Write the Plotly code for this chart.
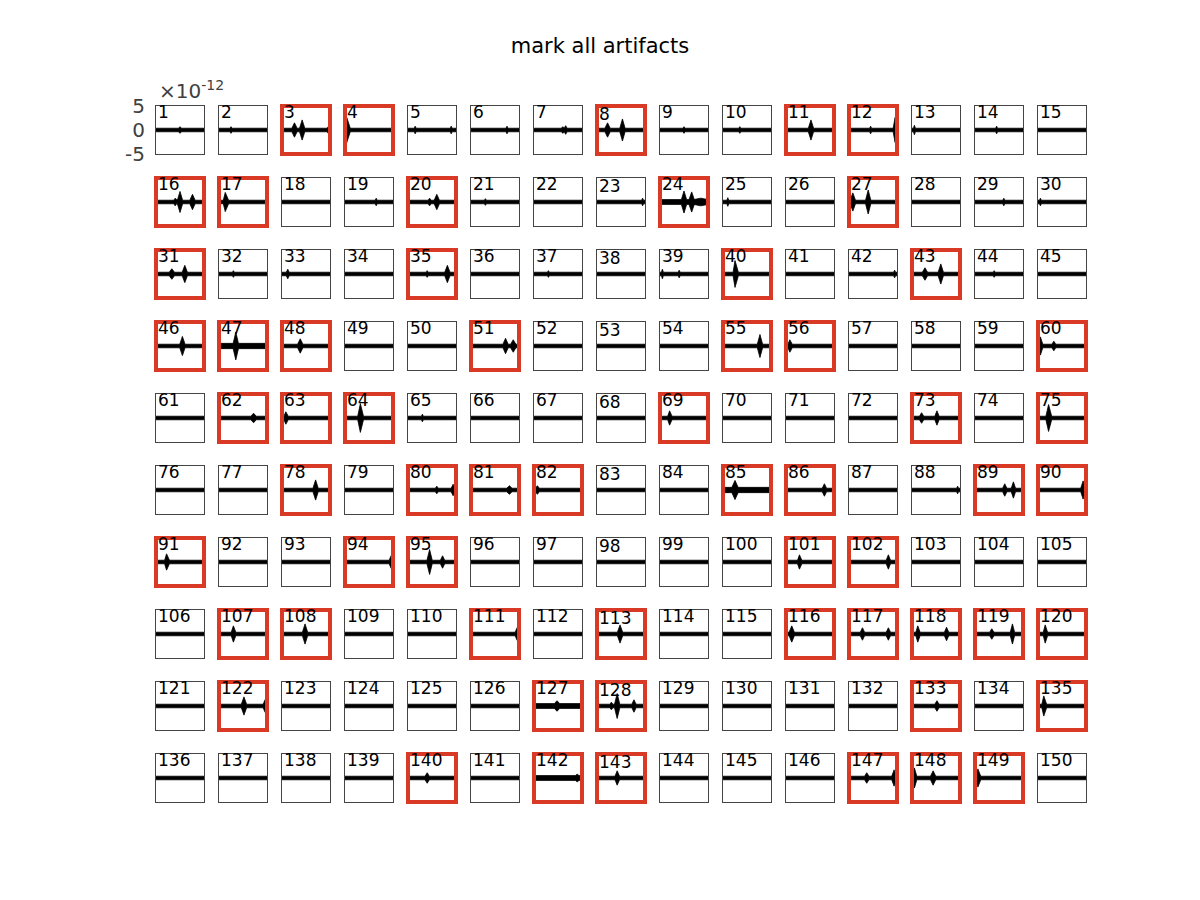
import plotly.graph_objects as go

# ---------------- data ----------------
title_text = "mark all artifacts"
n_panels = 150
n_cols = 15
panel_ids = list(range(1, n_panels + 1))

# panels marked as artifacts (red frame)
marked = [3, 4, 8, 11, 12, 16, 17, 20, 24, 27, 31, 35, 40, 43,
          46, 47, 48, 51, 55, 56, 60, 62, 63, 64, 69, 73, 75,
          78, 80, 81, 82, 85, 86, 89, 90, 91, 94, 95, 101, 102,
          107, 108, 111, 113, 116, 117, 118, 119, 120,
          122, 127, 128, 133, 135, 140, 142, 143, 147, 148, 149]

# background noise half-amplitude (x 1e-12)
base_amp = 0.37
thick = {24: 0.5, 47: 0.55, 85: 0.55, 127: 0.5, 142: 0.5}

# bursts: (relative time, peak half-amplitude x1e-12, rise width, decay width)
bursts = {
    1: [(0.5, 0.7, 0.03, 0.03)],
    2: [(0.25, 0.7, 0.02, 0.02)],
    3: [(0.26, 1.5, 0.055, 0.055), (0.42, 2.1, 0.055, 0.055), (0.97, 0.8, 0.03, 0.03)],
    4: [(0.03, 2.8, 0.03, 0.08)],
    5: [(0.15, 0.8, 0.02, 0.02), (0.9, 0.8, 0.02, 0.02)],
    6: [(0.75, 0.8, 0.02, 0.02)],
    7: [(0.6, 0.7, 0.03, 0.03), (0.66, 0.9, 0.03, 0.03)],
    8: [(0.22, 1.5, 0.055, 0.055), (0.53, 2.3, 0.055, 0.055)],
    9: [(0.5, 0.7, 0.02, 0.02)],
    10: [(0.35, 0.7, 0.02, 0.02)],
    11: [(0.52, 2.1, 0.055, 0.055)],
    12: [(0.45, 0.8, 0.02, 0.02), (0.96, 2.6, 0.04, 0.03)],
    13: [(0.05, 1.0, 0.02, 0.02)],
    14: [(0.45, 0.8, 0.02, 0.02)],
    16: [(0.4, 0.8, 0.03, 0.03), (0.5, 2.2, 0.055, 0.055), (0.76, 1.6, 0.055, 0.055)],
    17: [(0.13, 2.0, 0.04, 0.07)],
    19: [(0.65, 0.8, 0.02, 0.02)],
    20: [(0.45, 0.8, 0.03, 0.03), (0.6, 1.6, 0.055, 0.055)],
    21: [(0.3, 0.7, 0.02, 0.02)],
    23: [(0.95, 0.8, 0.02, 0.02)],
    24: [(0.5, 2.3, 0.055, 0.055), (0.66, 2.1, 0.055, 0.055), (0.85, 0.8, 0.15, 0.15)],
    25: [(0.1, 0.9, 0.02, 0.02)],
    27: [(0.08, 1.9, 0.055, 0.055), (0.4, 2.5, 0.055, 0.055)],
    29: [(0.6, 0.8, 0.02, 0.02)],
    30: [(0.05, 0.8, 0.02, 0.02)],
    31: [(0.33, 1.1, 0.055, 0.055), (0.6, 1.8, 0.055, 0.055)],
    32: [(0.3, 0.7, 0.02, 0.02)],
    33: [(0.12, 1.0, 0.03, 0.03)],
    35: [(0.4, 0.7, 0.02, 0.02), (0.82, 1.8, 0.055, 0.055)],
    37: [(0.3, 0.7, 0.02, 0.02)],
    39: [(0.05, 1.0, 0.02, 0.02), (0.4, 0.8, 0.02, 0.02)],
    40: [(0.25, 2.8, 0.04, 0.07)],
    42: [(0.95, 0.8, 0.02, 0.02)],
    43: [(0.27, 1.3, 0.055, 0.055), (0.6, 2.1, 0.055, 0.055)],
    44: [(0.4, 0.7, 0.02, 0.02)],
    46: [(0.55, 2.0, 0.055, 0.055)],
    47: [(0.35, 2.9, 0.055, 0.055)],
    48: [(0.38, 1.5, 0.055, 0.055)],
    51: [(0.72, 1.6, 0.055, 0.055), (0.88, 1.3, 0.055, 0.055)],
    55: [(0.77, 2.4, 0.055, 0.055)],
    56: [(0.08, 1.3, 0.04, 0.05)],
    60: [(0.05, 1.9, 0.04, 0.05), (0.33, 1.0, 0.04, 0.04)],
    62: [(0.72, 1.0, 0.055, 0.055)],
    63: [(0.08, 1.3, 0.04, 0.05)],
    64: [(0.32, 3.0, 0.055, 0.065)],
    65: [(0.3, 0.8, 0.02, 0.02)],
    69: [(0.2, 1.5, 0.04, 0.05)],
    73: [(0.2, 1.1, 0.045, 0.045), (0.52, 1.5, 0.045, 0.045)],
    75: [(0.22, 2.8, 0.055, 0.065)],
    78: [(0.7, 2.1, 0.055, 0.055)],
    80: [(0.6, 0.8, 0.03, 0.03), (0.94, 1.2, 0.04, 0.04)],
    81: [(0.8, 0.9, 0.055, 0.055)],
    82: [(0.07, 0.9, 0.04, 0.04)],
    85: [(0.25, 2.0, 0.065, 0.065)],
    86: [(0.8, 1.3, 0.045, 0.045)],
    88: [(0.95, 0.8, 0.02, 0.02)],
    89: [(0.62, 1.3, 0.045, 0.045), (0.8, 1.7, 0.045, 0.045)],
    90: [(0.94, 1.9, 0.05, 0.04)],
    91: [(0.22, 1.7, 0.04, 0.06)],
    94: [(0.96, 1.3, 0.04, 0.03)],
    95: [(0.45, 2.6, 0.055, 0.055), (0.72, 1.3, 0.045, 0.045)],
    101: [(0.28, 1.5, 0.04, 0.05)],
    102: [(0.82, 1.5, 0.045, 0.045)],
    107: [(0.3, 1.7, 0.045, 0.05)],
    108: [(0.48, 2.1, 0.055, 0.055)],
    111: [(0.96, 1.3, 0.04, 0.03)],
    113: [(0.48, 1.9, 0.055, 0.055)],
    116: [(0.12, 1.7, 0.055, 0.055)],
    117: [(0.28, 1.3, 0.045, 0.045), (0.82, 1.3, 0.045, 0.045)],
    118: [(0.12, 1.7, 0.04, 0.05), (0.72, 1.4, 0.045, 0.045)],
    119: [(0.35, 1.1, 0.045, 0.045), (0.78, 2.1, 0.045, 0.045)],
    120: [(0.15, 1.9, 0.04, 0.05)],
    122: [(0.52, 1.9, 0.055, 0.055), (0.96, 1.3, 0.04, 0.03)],
    127: [(0.48, 1.1, 0.055, 0.055)],
    128: [(0.3, 0.8, 0.03, 0.03), (0.42, 2.6, 0.055, 0.055), (0.77, 1.3, 0.045, 0.045)],
    133: [(0.52, 1.1, 0.045, 0.045)],
    135: [(0.12, 2.1, 0.04, 0.06)],
    140: [(0.4, 1.1, 0.045, 0.045)],
    142: [(0.9, 0.8, 0.04, 0.04)],
    143: [(0.42, 1.5, 0.045, 0.05)],
    147: [(0.37, 1.1, 0.045, 0.045), (0.94, 1.7, 0.05, 0.04)],
    148: [(0.05, 2.1, 0.04, 0.05), (0.44, 1.5, 0.055, 0.055)],
    149: [(0.06, 1.9, 0.04, 0.06)],
}

y_range = [-5, 5]
y_tick_vals = [-5, 0, 5]
y_tick_text = ["-5", "0", "5"]
exponent_text = "\u00d710<sup>-12</sup>"

# ---------------- layout geometry (pixels) ----------------
W, H = 1200, 900
COL0, COLSTEP = 156, 63
ROW0, ROWSTEP = 106, 72
BOX = 48
RED = "#d93a26"
FRAME = "#444444"
FONT = "DejaVu Sans"


def envelope(n):
    b = thick.get(n, base_amp)
    knots = [(0.0, b)]
    for c, a, wl, wr in sorted(bursts.get(n, [])):
        knots += [(max(c - wl, 0.0), b), (c, a), (min(c + wr, 1.0), b)]
    knots.append((1.0, b))
    xs = [k[0] for k in knots]
    up = [k[1] for k in knots]
    return xs + xs[::-1], up + [-v for v in up[::-1]]


fig = go.Figure()
annotations = []
shapes = []
layout_axes = {}

for n in panel_ids:
    i = n - 1
    r, c = divmod(i, n_cols)
    left = COL0 + c * COLSTEP
    top = ROW0 + r * ROWSTEP
    xd = [left / W, (left + BOX) / W]
    yd = [1 - (top + BOX) / H, 1 - top / H]
    sfx = "" if n == 1 else str(n)
    xa, ya = "x" + sfx, "y" + sfx

    x, y = envelope(n)
    fig.add_trace(go.Scatter(x=x, y=y, xaxis=xa, yaxis=ya, mode="lines",
                             fill="toself", fillcolor="black",
                             line=dict(color="black", width=0.8),
                             hoverinfo="skip", showlegend=False))

    layout_axes["xaxis" + sfx] = dict(domain=xd, range=[0, 1], anchor=ya,
                                      automargin=False,
                                      showgrid=False, zeroline=False,
                                      showticklabels=False, ticks="",
                                      showline=True, mirror=True,
                                      linecolor=FRAME, linewidth=1)
    yax = dict(domain=yd, range=y_range, anchor=xa, automargin=False,
               showgrid=False, zeroline=False,
               showline=True, mirror=True, linecolor=FRAME, linewidth=1)
    if n == 1:
        yax.update(showticklabels=True, tickvals=y_tick_vals, ticktext=y_tick_text,
                   ticks="", ticklabelstandoff=6,
                   tickfont=dict(family=FONT, size=20, color="#404040"))
    else:
        yax.update(showticklabels=False, ticks="")
    layout_axes["yaxis" + sfx] = yax

    annotations.append(dict(text=str(n), xref=xa + " domain", yref=ya + " domain",
                            x=0, y=1, xanchor="left", yanchor="top",
                            xshift=0, yshift=6 - (2 if c == 7 else 0),
                            showarrow=False,
                            font=dict(family=FONT, size=17, color="black")))
    if n in marked:
        shapes.append(dict(type="rect", xref=xa + " domain", yref=ya + " domain",
                           x0=0, x1=1, y0=0, y1=1, layer="above",
                           line=dict(color=RED, width=4)))

annotations.append(dict(text=exponent_text, xref="paper", yref="paper",
                        x=157 / W, y=1 - 105 / H, xanchor="left", yanchor="bottom",
                        showarrow=False,
                        font=dict(family=FONT, size=20, color="#404040")))

fig.update_layout(**layout_axes)
fig.update_layout(
    width=W, height=H,
    margin=dict(l=0, r=0, t=0, b=0, autoexpand=False),
    paper_bgcolor="white", plot_bgcolor="white",
    title=dict(text=title_text, x=0.5, xanchor="center",
               y=1 - 46 / H, yanchor="middle",
               font=dict(family=FONT, size=21, color="black")),
    annotations=annotations, shapes=shapes,
    showlegend=False,
)

fig.write_html("out.html")
